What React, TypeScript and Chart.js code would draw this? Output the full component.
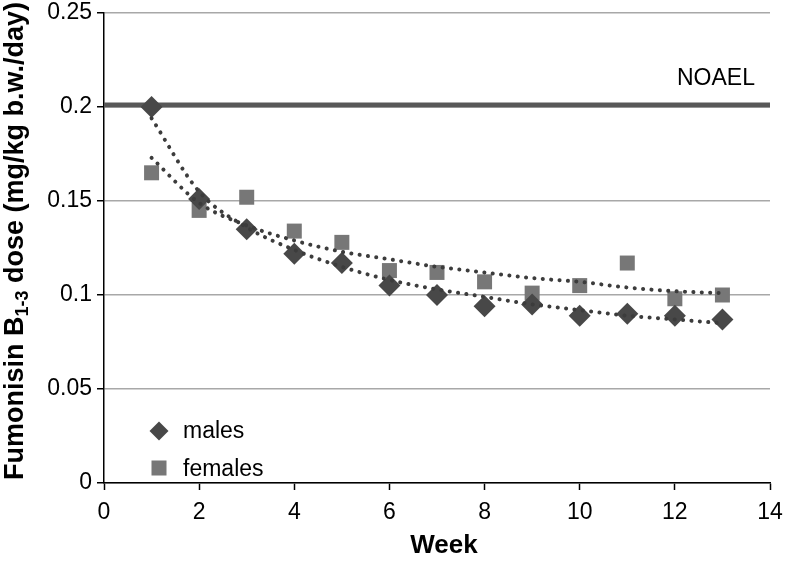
import React, { useEffect, useRef } from "react";
import { Chart, registerables } from "chart.js";

Chart.register(...registerables);

const weeks = [1, 2, 3, 4, 5, 6, 7, 8, 9, 10, 11, 12, 13];
const malesDose = [0.2, 0.151, 0.135, 0.122, 0.117, 0.105, 0.1, 0.094, 0.095, 0.089, 0.09, 0.089, 0.087];
const femalesDose = [0.165, 0.145, 0.152, 0.134, 0.128, 0.113, 0.112, 0.107, 0.101, 0.105, 0.117, 0.098, 0.1];
const malesTrend = [0.194, 0.155, 0.136, 0.124, 0.115, 0.108, 0.103, 0.099, 0.095, 0.092, 0.089, 0.087, 0.085];
const femalesTrend = [0.173, 0.149, 0.137, 0.129, 0.123, 0.119, 0.115, 0.112, 0.109, 0.107, 0.104, 0.102, 0.101];
const noaelValue = 0.201;
const noaelRange = [0, 14];
const seriesNames = ["males", "females"];
const noaelLabel = "NOAEL";
const xTitle = "Week";
const yTitleParts = ["Fumonisin B", "1-3", " dose (mg/kg b.w./day)"];

const FONT = "'Liberation Sans', Arial, sans-serif";
const MALE_COLOR = "#484848";
const FEMALE_COLOR = "#777777";
const TREND_COLOR = "#3c3c3c";

const pts = (ys: number[]) => weeks.map((w, i) => ({ x: w, y: ys[i] }));

const overlayPlugin = {
  id: "overlay",
  afterDraw(chart: any) {
    const ctx = chart.ctx;
    ctx.save();
    // NOAEL label
    ctx.fillStyle = "#000";
    ctx.font = `23px ${FONT}`;
    ctx.textAlign = "left";
    ctx.textBaseline = "alphabetic";
    ctx.fillText(noaelLabel, 677, 85);

    // legend
    const lx = 159;
    const y1 = 431;
    const y2 = 468;
    ctx.fillStyle = MALE_COLOR;
    ctx.beginPath();
    ctx.moveTo(lx, y1 - 9.5);
    ctx.lineTo(lx + 9.5, y1);
    ctx.lineTo(lx, y1 + 9.5);
    ctx.lineTo(lx - 9.5, y1);
    ctx.closePath();
    ctx.fill();
    ctx.fillStyle = FEMALE_COLOR;
    ctx.fillRect(lx - 7.5, y2 - 7.5, 15, 15);
    ctx.fillStyle = "#000";
    ctx.font = `23px ${FONT}`;
    ctx.fillText(seriesNames[0], 183, 438);
    ctx.fillText(seriesNames[1], 183, 476);

    // x title
    ctx.font = `bold 26px ${FONT}`;
    ctx.textAlign = "center";
    ctx.fillText(xTitle, 444, 553);

    // y title with subscript
    const big = `bold 27px ${FONT}`;
    const small = `bold 18px ${FONT}`;
    ctx.font = big;
    const w0 = ctx.measureText(yTitleParts[0]).width;
    const w2 = ctx.measureText(yTitleParts[2]).width;
    ctx.font = small;
    const w1 = ctx.measureText(yTitleParts[1]).width;
    const total = w0 + w1 + w2;
    ctx.translate(23, 241);
    ctx.rotate(-Math.PI / 2);
    ctx.textAlign = "left";
    let x = -total / 2;
    ctx.font = big;
    ctx.fillText(yTitleParts[0], x, 0);
    x += w0;
    ctx.font = small;
    ctx.fillText(yTitleParts[1], x, 5);
    x += w1;
    ctx.font = big;
    ctx.fillText(yTitleParts[2], x, 0);
    ctx.restore();
  },
};

export default function App() {
  const ref = useRef<HTMLCanvasElement>(null);
  useEffect(() => {
    if (!ref.current) return;
    const trendStyle = {
      showLine: true,
      borderColor: TREND_COLOR,
      borderWidth: 4,
      borderDash: [0.1, 8.3],
      borderCapStyle: "round",
      cubicInterpolationMode: "monotone",
      pointRadius: 0,
      order: 0,
    };
    const chart = new Chart(ref.current, {
      type: "scatter",
      data: {
        datasets: [
          { label: "males trend", data: pts(malesTrend), ...trendStyle } as any,
          { label: "females trend", data: pts(femalesTrend), ...trendStyle } as any,
          {
            label: seriesNames[0],
            data: pts(malesDose),
            pointStyle: "rectRot",
            pointRadius: 11,
            backgroundColor: MALE_COLOR,
            borderColor: MALE_COLOR,
            borderWidth: 0,
            order: 1,
          },
          {
            label: seriesNames[1],
            data: pts(femalesDose),
            pointStyle: "rect",
            pointRadius: 10.6,
            backgroundColor: FEMALE_COLOR,
            borderColor: FEMALE_COLOR,
            borderWidth: 0,
            order: 2,
          },
          {
            label: noaelLabel,
            data: noaelRange.map((x) => ({ x, y: noaelValue })),
            showLine: true,
            borderColor: "#585858",
            borderWidth: 5,
            pointRadius: 0,
            order: 3,
          } as any,
        ],
      },
      options: {
        responsive: false,
        animation: false,
        layout: { padding: { top: 13, right: 16, left: 0, bottom: 0 } },
        plugins: { legend: { display: false }, tooltip: { enabled: false } },
        scales: {
          x: {
            type: "linear",
            min: 0,
            max: 14,
            ticks: {
              stepSize: 2,
              color: "#000",
              font: { family: FONT, size: 23 },
              padding: 9,
            },
            grid: {
              drawOnChartArea: false,
              tickLength: 7,
              tickColor: "#000",
              tickWidth: 1.5,
            },
            border: { color: "#000", width: 1.5 },
            afterFit: (s: any) => {
              s.height = 80;
              s.paddingLeft = 0;
              s.paddingRight = 0;
              s.paddingTop = 0;
              s.paddingBottom = 0;
            },
          },
          y: {
            type: "linear",
            min: 0,
            max: 0.25,
            ticks: {
              stepSize: 0.05,
              color: "#000",
              font: { family: FONT, size: 23 },
              padding: 5,
              callback: (v: any) => String(Number(Number(v).toFixed(2))),
            },
            grid: {
              color: "#a8a8a8",
              lineWidth: 1.5,
              tickLength: 7,
              tickColor: "#000",
              tickWidth: 1.5,
            },
            border: { color: "#000", width: 1.5 },
            afterFit: (s: any) => {
              s.width = 104;
              s.paddingLeft = 0;
              s.paddingRight = 0;
              s.paddingTop = 0;
              s.paddingBottom = 0;
            },
          },
        },
      },
      plugins: [overlayPlugin],
    });
    return () => chart.destroy();
  }, []);
  return (
    <div style={{ position: "absolute", left: 0, top: 0, width: 786, height: 563, background: "#fff" }}>
      <canvas ref={ref} width={786} height={563} style={{ display: "block" }} />
    </div>
  );
}
